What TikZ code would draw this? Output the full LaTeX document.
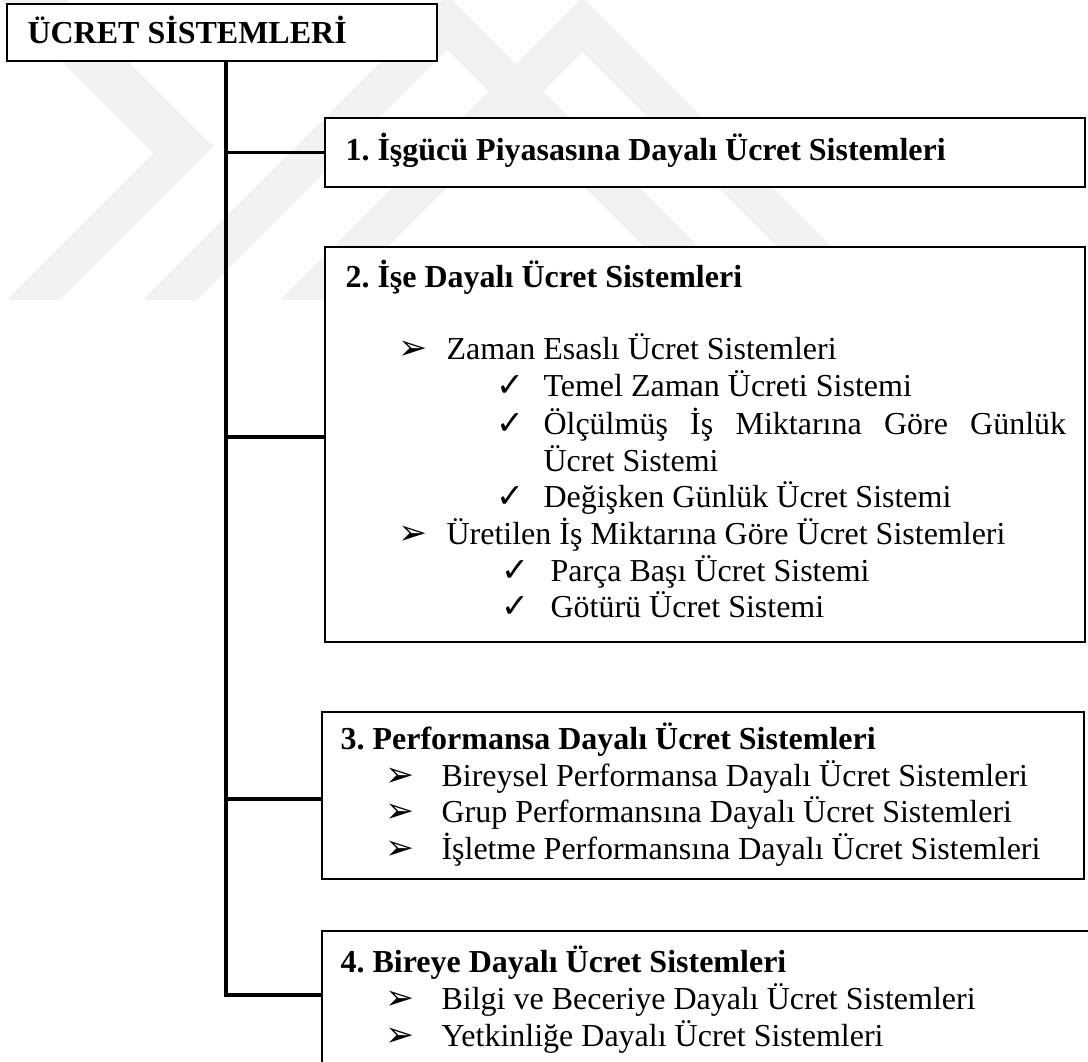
\documentclass[tikz,border=0pt]{standalone}
\usepackage{fontspec}
\setmainfont{Liberation Serif}
\newfontfamily\dingfont{DejaVu Sans}
\usetikzlibrary{fit}
\frenchspacing

\newcommand{\basefont}{\fontsize{12}{13.8}\selectfont}
\newcommand{\arrowmark}{{\dingfont\fontsize{13}{13}\selectfont ➢}}
\newcommand{\tickmark}{{\dingfont\fontsize{12.5}{12.5}\selectfont ✓}}

\tikzset{
  box/.style={draw, fill=white, line width=1pt, inner sep=0pt},
  link/.style={line width=1.3pt},
  head/.style={anchor=base west, inner sep=0pt, font=\basefont\bfseries},
  txt/.style={anchor=base west, inner sep=0pt, font=\basefont},
  wmark/.style={fill=black!5, draw=none},
}

\begin{document}
\begin{tikzpicture}[x=0.375pt, y=-0.375pt, line cap=butt, line join=miter]
  \useasboundingbox (0,0) rectangle (1088,1062);
  \clip (0,0) rectangle (1088,1062);

  % --- watermark chevrons ---
  \fill[wmark] (0,0) -- (67,0) -- (213.5,146.5) -- (60,300) -- (7,300) -- (153.5,153.5) -- cycle;
  \fill[wmark] (143,300) -- (443,0) -- (452,0) -- (752,300) -- (697,300) -- (447,50) -- (197,300) -- cycle;
  \fill[wmark] (280,300) -- (580,0) -- (585,0) -- (885,300) -- (830,300) -- (582.5,52.5) -- (335,300) -- cycle;

  % --- boxes ---
  \node[box, fit={(7,4) (437,61)}] (root) {};
  \node[box, fit={(325,118) (1085,187)}] (b1) {};
  \node[box, fit={(325,247) (1085,642)}] (b2) {};
  \node[box, fit={(322,712) (1084,879)}] (b3) {};
  \node[box, fit={(322,931) (1100,1100)}] (b4) {};

  % --- branch points on the boxes ---
  \coordinate (j1) at (b1.west);
  \coordinate (j2) at (325,437);
  \coordinate (j3) at (322,799);
  \coordinate (j4) at (322,995);

  % === trunk and branches ===
  \draw[link] ([xshift=1.5pt]root.south) -- ([xshift=1.5pt]root.south |- j4) -- (j4);
  \foreach \j in {j1,j2,j3}
    \draw[link] ([xshift=1.5pt]root.south |- \j) -- (\j);

  % --- root ---
  \node[head] (root-t) at (27,44) {ÜCRET SİSTEMLERİ};

  % --- box 1 ---
  \node[head] (b1-t) at (345,161) {1. İşgücü Piyasasına Dayalı Ücret Sistemleri};

  % --- box 2 ---
  \node[head] (b2-t) at (345,288) {2. İşe Dayalı Ücret Sistemleri};
  \node[txt] (b2-m1) at (398,360) {\arrowmark};
  \node[txt] (b2-i1) at (446,360) {Zaman Esaslı Ücret Sistemleri};
  \node[txt] (b2-c1) at (496,397) {\tickmark};
  \node[txt] (b2-s1) at (543,397) {Temel Zaman Ücreti Sistemi};
  \node[txt] (b2-c2) at (496,435) {\tickmark};
  \node[txt] (b2-s2) at (543,435) {\makebox[196pt][s]{Ölçülmüş İş Miktarına Göre Günlük}};
  \node[txt] (b2-s2b) at (543,472) {Ücret Sistemi};
  \node[txt] (b2-c3) at (496,508) {\tickmark};
  \node[txt] (b2-s3) at (543,508) {Değişken Günlük Ücret Sistemi};
  \node[txt] (b2-m2) at (398,545) {\arrowmark};
  \node[txt] (b2-i2) at (446,545) {Üretilen İş Miktarına Göre Ücret Sistemleri};
  \node[txt] (b2-c4) at (501,582) {\tickmark};
  \node[txt] (b2-s4) at (550,582) {Parça Başı Ücret Sistemi};
  \node[txt] (b2-c5) at (501,618) {\tickmark};
  \node[txt] (b2-s5) at (550,618) {Götürü Ücret Sistemi};

  % --- box 3 ---
  \node[head] (b3-t) at (340,750) {3. Performansa Dayalı Ücret Sistemleri};
  \node[txt] (b3-m1) at (385,787) {\arrowmark};
  \node[txt] (b3-i1) at (441,787) {Bireysel Performansa Dayalı Ücret Sistemleri};
  \node[txt] (b3-m2) at (385,823) {\arrowmark};
  \node[txt] (b3-i2) at (441,823) {Grup Performansına Dayalı Ücret Sistemleri};
  \node[txt] (b3-m3) at (385,860) {\arrowmark};
  \node[txt] (b3-i3) at (441,860) {İşletme Performansına Dayalı Ücret Sistemleri};

  % --- box 4 (runs off the page) ---
  \node[head] (b4-t) at (340,973) {4. Bireye Dayalı Ücret Sistemleri};
  \node[txt] (b4-m1) at (385,1010) {\arrowmark};
  \node[txt] (b4-i1) at (441,1010) {Bilgi ve Beceriye Dayalı Ücret Sistemleri};
  \node[txt] (b4-m2) at (385,1047) {\arrowmark};
  \node[txt] (b4-i2) at (441,1047) {Yetkinliğe Dayalı Ücret Sistemleri};
\end{tikzpicture}
\end{document}
